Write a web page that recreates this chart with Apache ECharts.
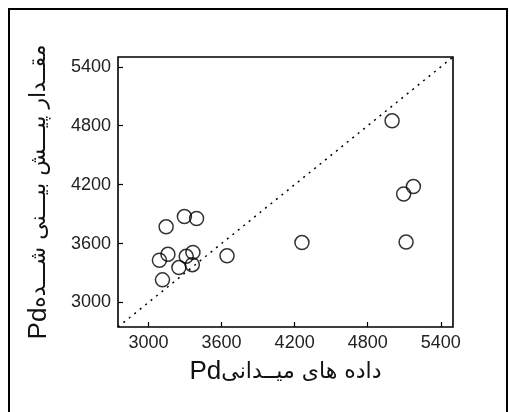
<!DOCTYPE html>
<html><head><meta charset="utf-8">
<script src="https://cdn.jsdelivr.net/npm/echarts@6/dist/echarts.min.js"></script>
<style>html,body{margin:0;padding:0;background:#fff}#c{width:509px;height:412px}</style>
</head><body><div id="c"></div>
<script>
const fieldPd = [5000, 5175, 5095, 5115, 4260, 3645, 3145, 3295, 3395, 3090, 3160, 3115, 3250, 3310, 3365, 3360];
const predPd  = [4850, 4180, 4105, 3615, 3610, 3475, 3770, 3875, 3855, 3430, 3490, 3230, 3355, 3470, 3510, 3385];
const tickValues = [3000, 3600, 4200, 4800, 5400];
const axisMin = 2750, axisMax = 5500;
const xTitlePd = 'Pd', xTitleFa = 'داده های میــدانی';
const yTitlePd = 'Pd', yTitleFa = 'مقــدار پیـــش بیـــنی شـــده';

const chart = echarts.init(document.getElementById('c'), null, {renderer: 'canvas'});
const font = "'Liberation Sans', Arial, sans-serif";
const faFont = "'DejaVu Sans', sans-serif";
function axis(title1, title2, gap) {
  return {
    type: 'value', min: axisMin, max: axisMax,
    splitLine: {show: false},
    axisLine: {show: false},
    axisTick: {show: true, inside: true, length: 5, customValues: tickValues, lineStyle: {color: '#000', width: 1.2}},
    axisLabel: {customValues: tickValues, formatter: v => String(v), color: '#222', fontSize: 18, fontFamily: font, margin: 7},
    name: '{a|' + title1 + '}{b|' + title2 + '}',
    nameLocation: 'middle', nameGap: gap,
    nameTextStyle: {rich: {
      a: {fontSize: 26, fontFamily: font, color: '#111'},
      b: {fontSize: 22, fontFamily: faFont, color: '#111'}
    }}
  };
}
chart.setOption({
  animation: false,
  backgroundColor: '#fff',
  grid: {left: 118, top: 57, right: 56, bottom: 85, show: true, borderColor: '#000', borderWidth: 1.6},
  xAxis: axis(xTitlePd, xTitleFa, 32),
  yAxis: axis(yTitlePd, yTitleFa, 66),
  graphic: [{type: 'rect', shape: {x: 9, y: 9, width: 498, height: 420}, style: {fill: 'none', stroke: '#000', lineWidth: 2}, silent: true}],
  series: [
    {type: 'line', data: [[axisMin, axisMin], [axisMax, axisMax]], symbol: 'none',
     lineStyle: {color: '#000', width: 1.5, type: [2, 5]}, silent: true},
    {type: 'scatter', data: fieldPd.map((x, i) => [x, predPd[i]]), symbol: 'circle', symbolSize: 14,
     itemStyle: {color: 'rgba(0,0,0,0)', borderColor: '#000', borderWidth: 1.5}}
  ]
});
</script></body></html>
